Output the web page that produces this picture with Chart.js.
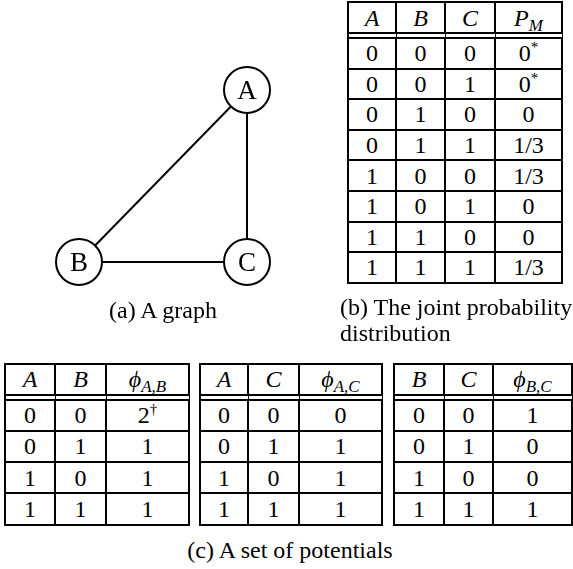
<!DOCTYPE html>
<html>
<head>
<meta charset="utf-8">
<script src="https://cdn.jsdelivr.net/npm/chart.js@4/dist/chart.umd.min.js"></script>
<style>
  html, body { margin: 0; padding: 0; background: #fff; overflow: hidden; }
  body { width: 573px; height: 569px; position: relative; font-family: "Liberation Serif", "Times New Roman", Times, serif; color: #000; }
  #graphBox { position: absolute; left: 0; top: 0; width: 330px; height: 300px; }
  .cap { position: absolute; font-size: 24px; white-space: nowrap; }
  .tbl { position: absolute; border-collapse: separate; border-spacing: 0; table-layout: fixed;
         border-top: 2px solid #000; border-left: 2px solid #000; font-size: 24px;
         font-family: "Liberation Serif", "Times New Roman", Times, serif; }
  .tbl td { box-sizing: border-box; border-right: 2px solid #000; border-bottom: 2px solid #000;
            padding: 0; text-align: center; vertical-align: middle; line-height: 1; white-space: nowrap; }
  .tbl tr.head td { border-bottom: 7px double #000; }
  .sb { font-size: 17px; position: relative; top: 5px; }
  .sp { font-size: 15px; position: relative; top: -9px; }
</style>
</head>
<body>
<div id="graphBox"><canvas id="graph"></canvas></div>
<div id="tables"></div>
<div class="cap" style="left:63px; top:297px; width:200px; text-align:center;">(a) A graph</div>
<div class="cap" style="left:340px; top:294px; line-height:26px;">(b) The joint probability<br>distribution</div>
<div class="cap" style="left:90px; top:537px; width:400px; text-align:center;">(c) A set of potentials</div>
<script>
// graph (a)
const nodeNames = ["A", "B", "C"];
const nodeX = [247, 79, 247];
const nodeY = [90, 262, 262];
const edges = [["A", "B"], ["A", "C"], ["B", "C"]];

// table (b)
const colA = [0, 0, 0, 0, 1, 1, 1, 1];
const colB = [0, 0, 1, 1, 0, 0, 1, 1];
const colC = [0, 1, 0, 1, 0, 1, 0, 1];
const pM = ["0", "0", "0", "1/3", "1/3", "0", "0", "1/3"];
const pMMark = ["*", "*", "", "", "", "", "", ""];

// potentials (c)
const potFirst = [0, 0, 1, 1];
const potSecond = [0, 1, 0, 1];
const phiAB = ["2", "1", "1", "1"];
const phiABMark = ["\u2020", "", "", ""];
const phiAC = ["0", "1", "1", "1"];
const phiBC = ["1", "0", "0", "1"];

const pt = (name) => {
  const i = nodeNames.indexOf(name);
  return { x: nodeX[i], y: nodeY[i] };
};

const edgeSets = edges.map(([a, b]) => ({
  data: [pt(a), pt(b)],
  showLine: true,
  borderColor: "#000",
  borderWidth: 2,
  pointRadius: 0,
  order: 2,
}));

const nodeSet = {
  data: nodeNames.map((n) => pt(n)),
  pointRadius: 23,
  pointBackgroundColor: "#fff",
  pointBorderColor: "#000",
  pointBorderWidth: 2,
  showLine: false,
  order: 1,
};

const nodeLabels = {
  id: "nodeLabels",
  afterDatasetsDraw(chart) {
    const ctx = chart.ctx;
    const meta = chart.getDatasetMeta(edgeSets.length);
    ctx.save();
    ctx.fillStyle = "#000";
    ctx.font = '27px "Liberation Serif", "Times New Roman", serif';
    ctx.textAlign = "center";
    ctx.textBaseline = "alphabetic";
    meta.data.forEach((p, i) => {
      ctx.fillText(nodeNames[i], p.x, p.y + 9);
    });
    ctx.restore();
  },
};

new Chart(document.getElementById("graph"), {
  type: "scatter",
  data: { datasets: [...edgeSets, nodeSet] },
  options: {
    responsive: true,
    maintainAspectRatio: false,
    animation: false,
    layout: { padding: 0, autoPadding: false },
    plugins: { legend: { display: false }, tooltip: { enabled: false } },
    scales: {
      x: { type: "linear", min: 0, max: 330, display: false },
      y: { type: "linear", min: 0, max: 300, reverse: true, display: false },
    },
  },
  plugins: [nodeLabels],
});

// tables
const head = (v, s) => `<i>${v}</i>` + (s ? `<span class="sb"><i>${s}</i></span>` : "");
const val = (v, m) => v + (m ? `<span class="sp">${m}</span>` : "");

function makeTable(left, top, widths, headH, rowH, heads, cols) {
  const total = widths.reduce((a, b) => a + b, 0) + 2;
  let html = `<table class="tbl" style="left:${left}px; top:${top}px; width:${total}px;">`;
  html += `<tr class="head">` + heads.map((h, j) =>
    `<td style="width:${widths[j]}px; height:${headH}px;">${h}</td>`).join("") + `</tr>`;
  for (let r = 0; r < cols[0].length; r++) {
    html += `<tr>` + cols.map((c) => `<td style="height:${rowH}px;">${c[r]}</td>`).join("") + `</tr>`;
  }
  return html + `</table>`;
}

const box = document.getElementById("tables");
box.innerHTML =
  makeTable(347, 1, [48, 49, 50, 67], 36, 30.6,
    [head("A"), head("B"), head("C"), head("P", "M")],
    [colA, colB, colC, pM.map((v, i) => val(v, pMMark[i]))]) +
  makeTable(4, 363, [50, 51, 83], 35.5, 31.25,
    [head("A"), head("B"), head("\u03D5", "A,B")],
    [potFirst, potSecond, phiAB.map((v, i) => val(v, phiABMark[i]))]) +
  makeTable(199, 363, [48, 51, 83], 35.5, 31.25,
    [head("A"), head("C"), head("\u03D5", "A,C")],
    [potFirst, potSecond, phiAC]) +
  makeTable(393, 363, [50, 49, 79], 35.5, 31.25,
    [head("B"), head("C"), head("\u03D5", "B,C")],
    [potFirst, potSecond, phiBC]);
</script>
</body>
</html>
